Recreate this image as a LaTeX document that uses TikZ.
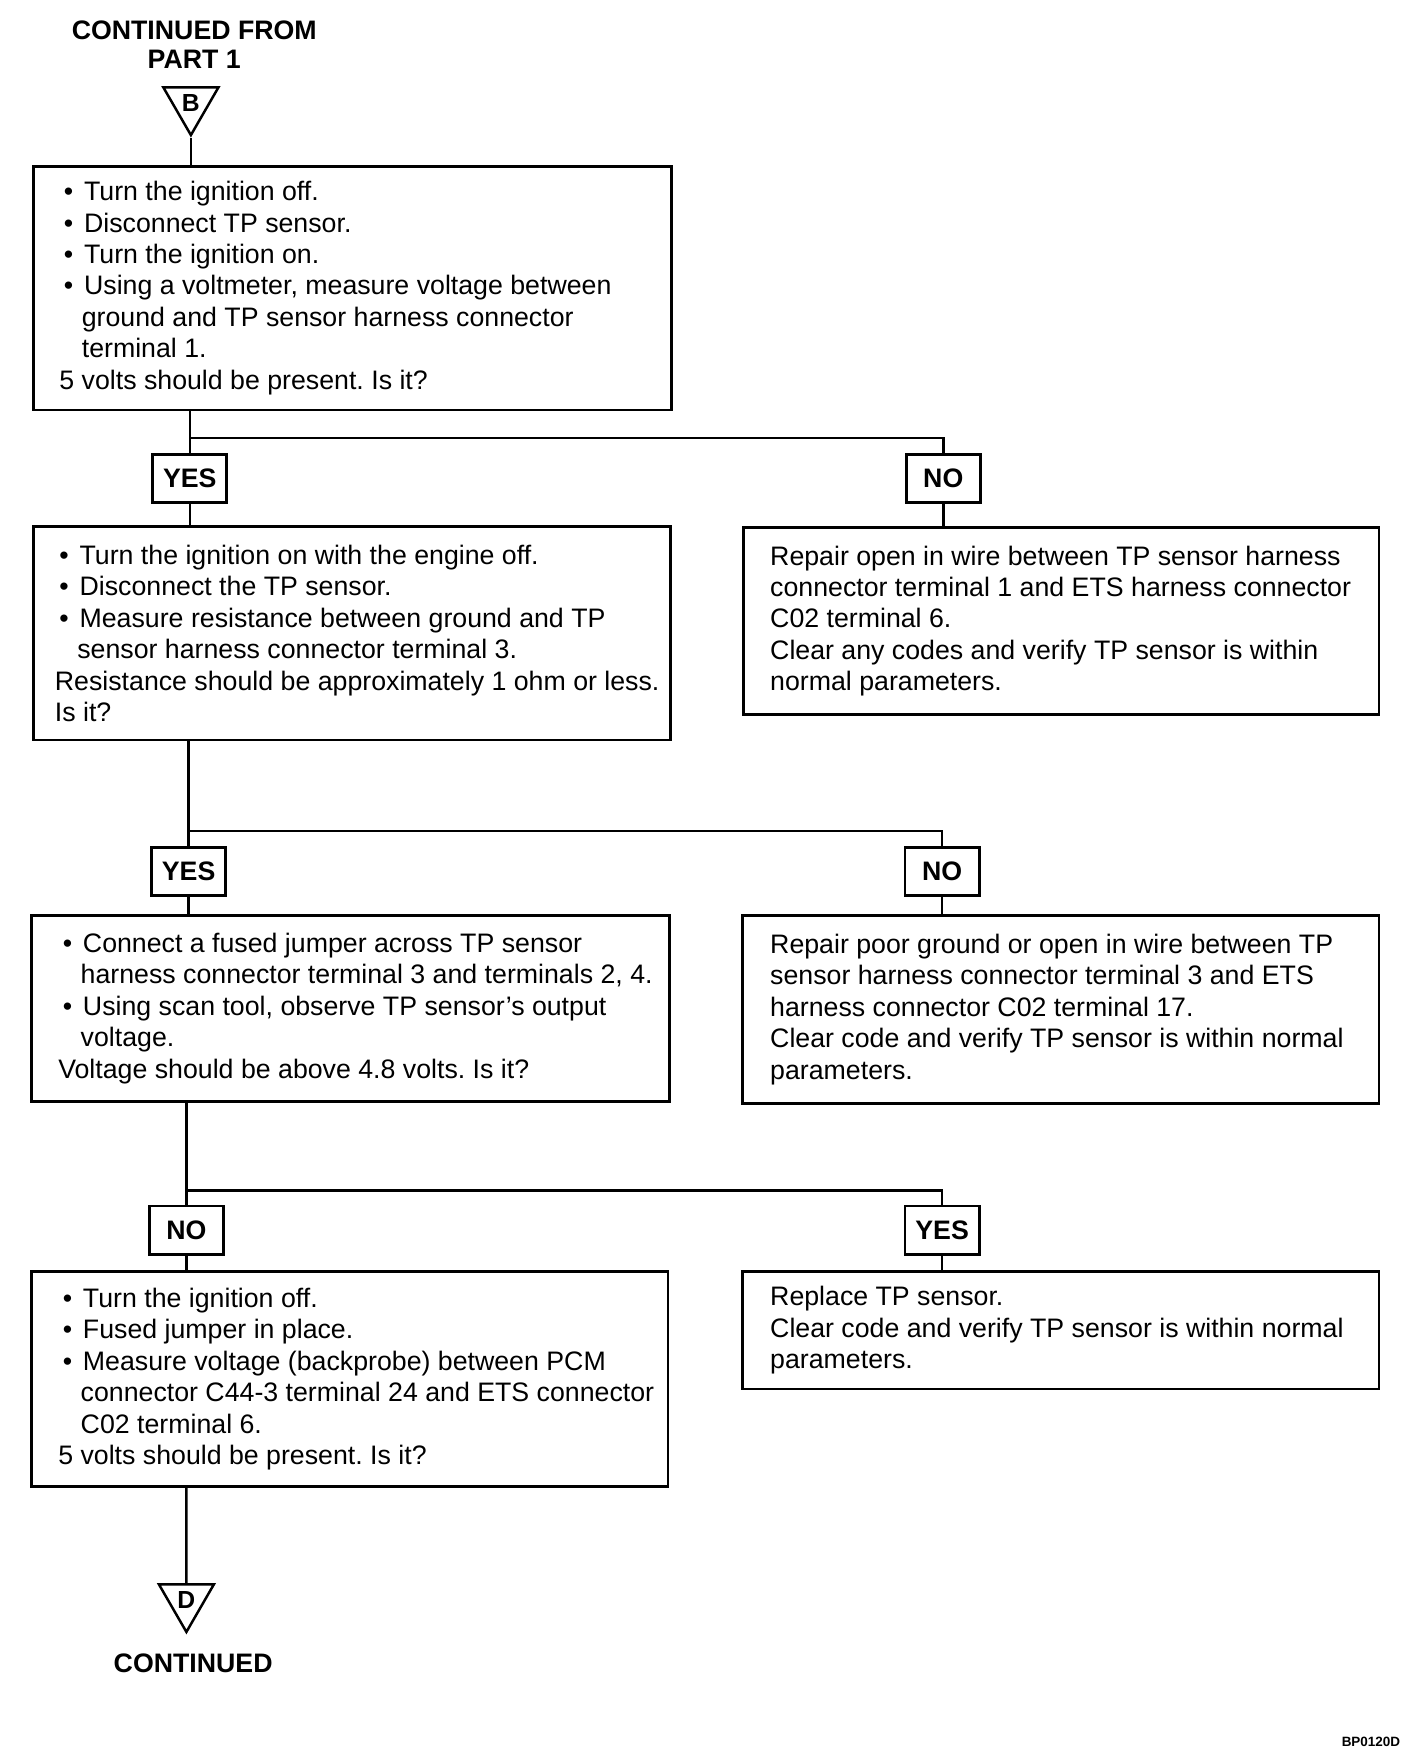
\documentclass[tikz,border=0pt]{standalone}
\usepackage{fontspec}
\setmainfont{Liberation Sans}
\usetikzlibrary{shapes.geometric}
\newcommand{\fbul}{\hspace*{2pt}\makebox[9pt][l]{\textbullet}}
\newcommand{\fcont}{\hspace*{10pt}}
\frenchspacing
\begin{document}
\frenchspacing
\begin{tikzpicture}[x=0.5pt,y=-0.5pt,
  line width=1.1pt,
  box/.style={draw, line width=1.2pt, inner sep=0pt, anchor=center},
  txt/.style={anchor=west, align=left, inner sep=0pt, font=\fontsize{11.9pt}{14pt}\selectfont\frenchspacing},
  lab/.style={draw, line width=1.2pt, minimum width=33pt, minimum height=21.5pt, inner sep=0pt, font=\bfseries\fontsize{11.9pt}{14pt}\selectfont},
  tri/.style={draw, line width=1.1pt, regular polygon, regular polygon sides=3, shape border rotate=180, minimum size=28.3pt, inner sep=0pt, font=\bfseries\fontsize{11pt}{12pt}\selectfont},
  headtxt/.style={font=\bfseries\fontsize{11.9pt}{13pt}\selectfont, align=center, inner sep=0pt}
]
\fill[white] (0,0) rectangle (1254,1562);
\useasboundingbox (0,0) rectangle (1254,1562);

% header
\node[headtxt] (hdr) at (173,40) {CONTINUED FROM\\PART 1};
\node[tri] (tb) at (170,92) {B};

% boxes
\node[box, minimum width=284pt, minimum height=108.5pt] (b1) at (314,256.5) {};
\node[txt] (t1) at ([xshift=11.5pt]b1.west) {%
\fbul Turn the ignition off.\\
\fbul Disconnect TP sensor.\\
\fbul Turn the ignition on.\\
\fbul Using a voltmeter, measure voltage between\\
\fcont ground and TP sensor harness connector\\
\fcont terminal 1.\\
5 volts should be present. Is it?};

\node[box, minimum width=283.5pt, minimum height=95pt] (b2) at (313.5,564) {};
\node[txt] (t2) at ([xshift=9.5pt]b2.west) {%
\fbul Turn the ignition on with the engine off.\\
\fbul Disconnect the TP sensor.\\
\fbul Measure resistance between ground and TP\\
\fcont sensor harness connector terminal 3.\\
Resistance should be approximately 1 ohm or less.\\
Is it?};

\node[box, minimum width=283pt, minimum height=83pt] (n1) at (945,553) {};
\node[txt] (tn1) at ([xshift=12pt]n1.west) {%
Repair open in wire between TP sensor harness\\
connector terminal 1 and ETS harness connector\\
C02 terminal 6.\\
Clear any codes and verify TP sensor is within\\
normal parameters.};

\node[box, minimum width=284pt, minimum height=83pt] (b3) at (312,898) {};
\node[txt] (t3) at ([xshift=12pt]b3.west) {%
\fbul Connect a fused jumper across TP sensor\\
\fcont harness connector terminal 3 and terminals 2, 4.\\
\fbul Using scan tool, observe TP sensor's output\\
\fcont voltage.\\
Voltage should be above 4.8 volts. Is it?};

\node[box, minimum width=283.5pt, minimum height=84pt] (n2) at (944.5,899) {};
\node[txt] (tn2) at ([xshift=12.5pt]n2.west) {%
Repair poor ground or open in wire between TP\\
sensor harness connector terminal 3 and ETS\\
harness connector C02 terminal 17.\\
Clear code and verify TP sensor is within normal\\
parameters.};

\node[box, minimum width=283.5pt, minimum height=96pt] (b4) at (311.5,1228) {};
\node[txt] (t4) at ([xshift=12pt]b4.west) {%
\fbul Turn the ignition off.\\
\fbul Fused jumper in place.\\
\fbul Measure voltage (backprobe) between PCM\\
\fcont connector C44-3 terminal 24 and ETS connector\\
\fcont C02 terminal 6.\\
5 volts should be present. Is it?};

\node[box, minimum width=283.5pt, minimum height=52.5pt] (y3) at (944.5,1184.5) {};
\node[txt] (ty3) at ([xshift=12.5pt]y3.west) {%
Replace TP sensor.\\
Clear code and verify TP sensor is within normal\\
parameters.};

% labels
\node[lab] (l1y) at (169,426) {YES};
\node[lab] (l1n) at (840,426) {NO};
\node[lab] (l2y) at (168,776) {YES};
\node[lab] (l2n) at (839,776) {NO};
\node[lab] (l3n) at (166,1095.5) {NO};
\node[lab] (l3y) at (839,1095.5) {YES};

% bottom
\node[tri] (td) at (166,1425) {D};
\node[headtxt] (cont) at (172,1481) {CONTINUED};
\node[anchor=east, inner sep=0pt, font=\bfseries\fontsize{6pt}{7pt}\selectfont] (code) at (1248,1551) {BP0120D};

% junctions
\coordinate (j1) at (169,390);
\coordinate (j2) at (168,740);
\coordinate (j3) at (166,1060);

% connectors
\draw (tb.south) -- (tb.south |- b1.north);
\draw (b1.south -| l1y) -- (l1y.north);
\draw (j1) -| (l1n.north);
\draw (l1y.south) -- (l1y.south |- b2.north);
\draw (l1n.south) -- (l1n.south |- n1.north);

\draw (b2.south -| l2y) -- (l2y.north);
\draw (j2) -| (l2n.north);
\draw (l2y.south) -- (l2y.south |- b3.north);
\draw (l2n.south) -- (l2n.south |- n2.north);

\draw (b3.south -| l3n) -- (l3n.north);
\draw (j3) -| (l3y.north);
\draw (l3n.south) -- (l3n.south |- b4.north);
\draw (l3y.south) -- (l3y.south |- y3.north);

\draw (b4.south -| td) -- (td.north);
\end{tikzpicture}
\end{document}
